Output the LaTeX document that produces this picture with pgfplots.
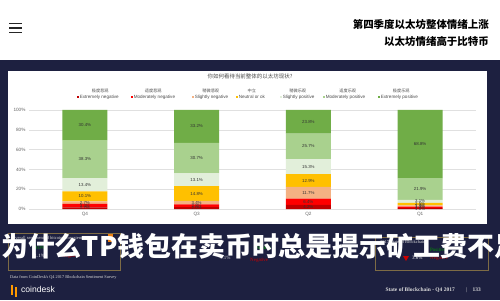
\documentclass[border=0pt]{standalone}
\usepackage{pgfplots}
\usepackage{pgfplotstable}
\pgfplotsset{compat=1.18}
\usepackage{fontspec}
\setmainfont{Liberation Sans}
\newfontfamily\serif{Liberation Serif}
\newfontfamily\cjk{Noto Sans CJK SC}
\definecolor{navy}{HTML}{1D2040}
\definecolor{EP}{HTML}{70AD47}
\definecolor{MP}{HTML}{A9D18E}
\definecolor{SP}{HTML}{E2EFDA}
\definecolor{NE}{HTML}{FFC000}
\definecolor{SN}{HTML}{F4B183}
\definecolor{MN}{HTML}{FF0000}
\definecolor{EN}{HTML}{C00000}
\definecolor{boxc}{HTML}{7D6B45}
\newcommand{\fs}[1]{\fontsize{#1}{#1}\selectfont}

\pgfplotstableread{
x EN MN SN NE SP MP EP
0 1.7 3.4 2.7 10.1 13.4 38.3 30.4
1 2.0 2.8 3.4 14.8 13.1 30.7 33.2
2 4.2 6.4 11.7 12.9 15.3 25.7 23.8
3 1.0 1.3 1.4 2.5 3.1 21.9 68.8
}\data

\pgfplotstableread{
x y v
0 0.85 1.7
0 3.4 3.4
0 6.45 2.7
0 12.85 10.1
0 24.6 13.4
0 50.45 38.3
0 84.8 30.4
1 1.0 2.0
1 3.4 2.8
1 6.5 3.4
1 15.6 14.8
1 29.55 13.1
1 51.45 30.7
1 83.4 33.2
2 2.1 4.2
2 7.4 6.4
2 16.45 11.7
2 28.75 12.9
2 42.85 15.3
2 63.35 25.7
2 88.1 23.8
3 0.5 1.0
3 1.65 1.3
3 3.0 1.4
3 4.95 2.5
3 7.75 3.1
3 20.25 21.9
3 65.6 68.8
}\labels

\begin{document}
\begin{tikzpicture}[x=1bp,y=1bp]
\useasboundingbox (0,0) rectangle (500,300);
\clip (0,0) rectangle (500,300);
\fill[navy] (0,0) rectangle (500,300);
% header
\fill[white] (0,240) rectangle (500,300);
\foreach \yy in {276.5,272,267.5} \draw[line width=1.4bp, black!85] (9,\yy) -- (22,\yy);
\node[anchor=east, inner sep=0] at (489,276) {\cjk\bfseries\fs{10.5}第四季度以太坊整体情绪上涨};
\node[anchor=east, inner sep=0] at (489,258.3) {\cjk\bfseries\fs{10.5}以太坊情绪高于比特币};
% panel
\fill[white] (8,76) rectangle (487,229);
\node[inner sep=0, text=black!70] at (250,224) {\cjk\fs{5.5}你如何看待当前整体的以太坊现状?};
% legend
\foreach \mx/\col/\en/\cn/\w in {
  77/EN/Extremely negative/极度悲观/44,
  131/MN/Moderately negative/适度悲观/42,
  192/SN/Slightly negative/稍微悲观/35,
  236/NE/Neutral or ok/中立/29,
  280/SP/Slightly positive/稍微乐观/33,
  323/MP/Moderately positive/适度乐观/47,
  378/EP/Extremely positive/极度乐观/44}{
  \fill[\col] (\mx,201.8) rectangle ++(2.4,2.4);
  \node[anchor=west, inner sep=0, text=black!70] at (\mx+2.6,203) {\fs{4.6}\en};
  \node[inner sep=0, text=black!70] at (\mx+1.3+\w/2,209.5) {\cjk\fs{4.2}\cn};
}
% bars
\begin{axis}[at={(29bp,91bp)}, anchor=south west, scale only axis,
  width=447bp, height=99bp,
  ybar stacked, bar width=45bp,
  xmin=-0.5, xmax=3.5, ymin=0, ymax=100,
  axis line style={draw=none},
  ymajorgrids, grid style={black!12, line width=0.4bp},
  ytick={0,20,40,60,80,100},
  yticklabel={\pgfmathprintnumber{\tick}\%},
  xtick={0,1,2,3}, xticklabels={Q4,Q3,Q2,Q1},
  tick style={draw=none},
  tick label style={font=\fs{4.7}, text=black!60},
  /pgf/number format/assume math mode=true]
\addplot[fill=EN, draw=none] table[x=x,y=EN]\data;
\addplot[fill=MN, draw=none] table[x=x,y=MN]\data;
\addplot[fill=SN, draw=none] table[x=x,y=SN]\data;
\addplot[fill=NE, draw=none] table[x=x,y=NE]\data;
\addplot[fill=SP, draw=none] table[x=x,y=SP]\data;
\addplot[fill=MP, draw=none] table[x=x,y=MP]\data;
\addplot[fill=EP, draw=none] table[x=x,y=EP]\data;
\end{axis}
\begin{axis}[at={(29bp,91bp)}, anchor=south west, scale only axis,
  width=447bp, height=99bp,
  xmin=-0.5, xmax=3.5, ymin=0, ymax=100, hide axis,
  /pgf/number format/assume math mode=true]
\addplot[draw=none, mark=none, nodes near coords={\pgfmathprintnumber[fixed,precision=1,fixed zerofill]{\pgfplotspointmeta}\%},
  point meta=\thisrow{v},
  every node near coord/.style={anchor=center, inner sep=0, font=\fs{4.4}, text=black!80}]
  table[x=x,y=y]\labels;
\end{axis}
% lower boxes (partly hidden)
\draw[boxc, line width=0.7bp] (8,67) rectangle (120,30);
\draw[boxc, line width=0.7bp] (375,63) rectangle (488,30);
\node[anchor=west, inner sep=0, text=white!85!black] at (12,62) {\serif\fs{4.5}Overall sentiment of bitcoin ecosystem};
\fill[orange!70!brown] (108,58) rectangle (113,66);
\node[anchor=west, inner sep=0, text=green!60!black] at (32,52) {\serif\fs{5}69.0\%};
\node[anchor=west, inner sep=0, text=white] at (32,44) {\serif\fs{5}31.1\%};
\node[anchor=west, inner sep=0, text=red!80!black] at (62,44) {\serif\fs{5}Negative};
\node[anchor=west, inner sep=0, text=green!60!black] at (255,52) {\serif\fs{5}Positive};
\node[anchor=west, inner sep=0, text=white!80!black] at (220,42) {\serif\fs{5}7.1\%};
\node[anchor=west, inner sep=0, text=red!80!black] at (250,40) {\serif\fs{5}Negative};
\node[anchor=west, inner sep=0, text=white!85!black] at (380,58) {\serif\fs{4.5}2017 State of Blockchain};
\node[anchor=west, inner sep=0, text=green!60!black] at (430,50) {\serif\fs{5}Positive};
\fill[red!80!black] (403,44) -- (409,44) -- (406,39) -- cycle;
\node[anchor=west, inner sep=0, text=white] at (412,42) {\serif\fs{5}3.6\%};
\node[anchor=west, inner sep=0, text=red!80!black] at (430,42) {\serif\fs{5}Negative};
% footer
\node[anchor=west, inner sep=0, text=white!85!black] at (10,23) {\serif\fs{4.3}Data from CoinDesk's Q4 2017 Blockchain Sentiment Survey};
\draw[orange!80!yellow, line width=1.5bp] (12,15) -- (12,5);
\draw[orange!80!yellow, line width=1.5bp] (16,13) -- (16,3);
\node[anchor=west, inner sep=0, text=white] at (21,11) {\fs{8.6}coindesk};
\node[anchor=east, inner sep=0, text=white!85!black] at (455,10) {\serif\bfseries\fs{5.5}State of Blockchain - Q4 2017};
\node[inner sep=0, text=white!85!black] at (467,10) {\serif\fs{5.5}|};
\node[anchor=east, inner sep=0, text=white!85!black] at (481,10) {\serif\bfseries\fs{5.5}133};
% overlay caption
\node[anchor=base west, inner sep=0, text=white] at (1,44) {\cjk\bfseries\fs{27}为什么TP钱包在卖币时总是提示矿工费不足};
\end{tikzpicture}
\end{document}
